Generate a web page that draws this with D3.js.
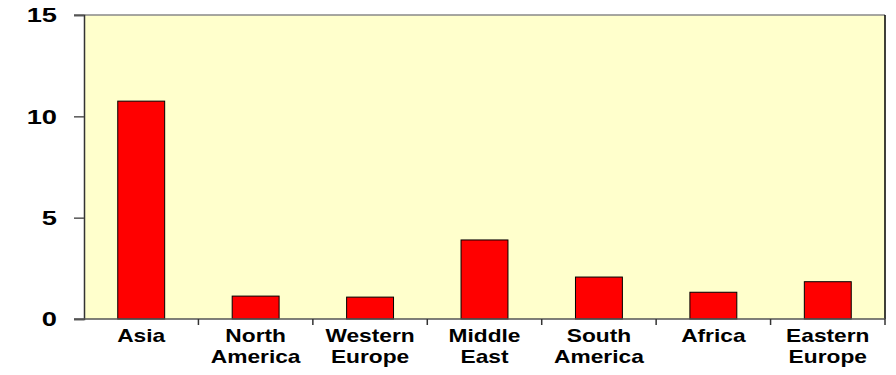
<!DOCTYPE html>
<html lang="en">
<head>
<meta charset="utf-8">
<title>Bar chart</title>
<script src="https://cdn.jsdelivr.net/npm/d3@7"></script>
<style>
  body { margin: 0; background: #fff; }
  text { font-family: "Liberation Sans", Arial, sans-serif; font-weight: bold; fill: #000; }
</style>
</head>
<body>
<div id="chart"></div>
<script>
// data
var regions = ["Asia", "North America", "Western Europe", "Middle East", "South America", "Africa", "Eastern Europe"];
var regionLines = [["Asia"], ["North", "America"], ["Western", "Europe"], ["Middle", "East"], ["South", "America"], ["Africa"], ["Eastern", "Europe"]];
var values = [10.75, 1.13, 1.08, 3.9, 2.07, 1.32, 1.84];
var yTicks = [0, 5, 10, 15];

var width = 896, height = 375;
var margin = {top: 15, right: 11, bottom: 56, left: 84};
var w = width - margin.left - margin.right;
var h = height - margin.top - margin.bottom;
// the original text is drawn horizontally stretched
var stretch = 1.3;

var svg = d3.select("#chart").append("svg")
    .attr("width", width)
    .attr("height", height);

var g = svg.append("g")
    .attr("transform", "translate(" + margin.left + "," + margin.top + ")");

var x = d3.scaleBand().domain(regions).range([0, w]).paddingInner(0.59).paddingOuter(0.295);
var xb = d3.scaleBand().domain(regions).range([0, w]);
var y = d3.scaleLinear().domain([0, 15]).range([h, 0]);

// plot background
g.append("rect")
    .attr("x", 0).attr("y", 0)
    .attr("width", w).attr("height", h)
    .attr("fill", "#ffffcc");

// top border (gray) and right border (black)
g.append("line")
    .attr("x1", -10).attr("x2", w)
    .attr("y1", y(15)).attr("y2", y(15))
    .attr("stroke", "#888").attr("stroke-width", 1.5);
g.append("line")
    .attr("x1", w).attr("x2", w)
    .attr("y1", 0).attr("y2", h)
    .attr("stroke", "#000").attr("stroke-width", 1.5);

// bars
g.selectAll("rect.bar")
    .data(values)
    .enter()
    .append("rect")
    .attr("class", "bar")
    .attr("x", function(d, i) { return x(regions[i]); })
    .attr("y", function(d) { return y(d); })
    .attr("width", x.bandwidth())
    .attr("height", function(d) { return h - y(d); })
    .attr("fill", "#ff0000")
    .attr("stroke", "#000")
    .attr("stroke-width", 1);

// y axis
var yAxis = d3.axisLeft(y).tickValues(yTicks).tickSize(10);
var ya = g.append("g").call(yAxis);
ya.select(".domain").attr("stroke", "#333").attr("stroke-width", 1.5);
ya.selectAll(".tick line").attr("stroke", "#555").attr("stroke-width", 1.5);
ya.selectAll(".tick text")
    .attr("x", 0)
    .attr("transform", "translate(-27,0) scale(" + stretch + ",1)")
    .style("font-size", "21px");

// x axis: ticks at category boundaries
var xa = g.append("g").attr("transform", "translate(0," + h + ")");
xa.append("line")
    .attr("x1", -10).attr("x2", w)
    .attr("y1", 0).attr("y2", 0)
    .attr("stroke", "#555").attr("stroke-width", 1.5);
xa.selectAll("line.tk")
    .data(regions)
    .enter()
    .append("line")
    .attr("class", "tk")
    .attr("x1", function(d) { return xb(d) + xb.bandwidth(); })
    .attr("x2", function(d) { return xb(d) + xb.bandwidth(); })
    .attr("y1", 0).attr("y2", 6)
    .attr("stroke", "#333").attr("stroke-width", 1.5);

var labels = xa.selectAll("text.lbl")
    .data(regions)
    .enter()
    .append("text")
    .attr("class", "lbl")
    .attr("text-anchor", "middle")
    .attr("transform", function(d) {
        return "translate(" + (xb(d) + xb.bandwidth() / 2) + ",23) scale(" + stretch + ",1)";
    })
    .style("font-size", "17.5px");
labels.selectAll("tspan")
    .data(function(d, i) { return regionLines[i]; })
    .enter()
    .append("tspan")
    .attr("x", 0)
    .attr("dy", function(d, i) { return i === 0 ? 0 : 21; })
    .text(function(d) { return d; });
</script>
</body>
</html>
